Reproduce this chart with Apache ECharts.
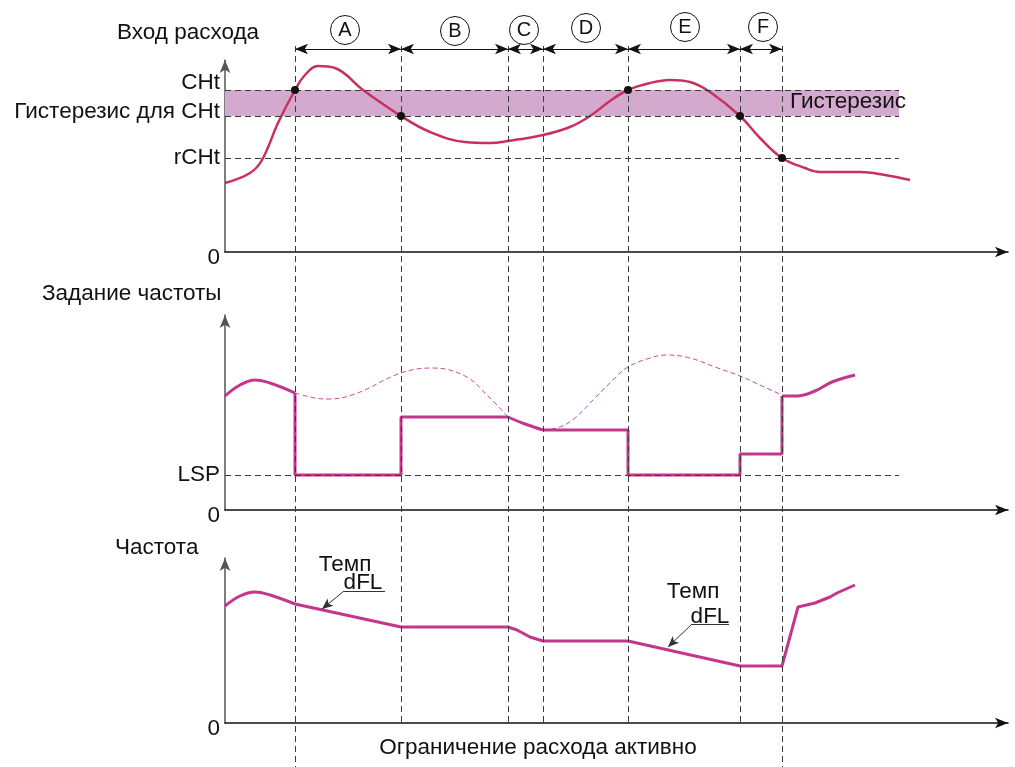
<!DOCTYPE html>
<html><head><meta charset="utf-8">
<script src="https://cdn.jsdelivr.net/npm/echarts@6/dist/echarts.min.js"></script>
<style>html,body{margin:0;padding:0;background:#fff}#c{width:1015px;height:767px}</style>
</head><body><div id="c"></div>
<script>
const FONT = "'Liberation Sans', Arial, Helvetica, sans-serif";
const FS = 22.5;
const TXT = '#111';

// ---- time axis events (dashed verticals) ----
const events = [70, 176, 283, 318, 403, 515, 557];
const eventBottom = [767, 722, 722, 722, 722, 722, 767];
const phaseLetters = ['A', 'B', 'C', 'D', 'E', 'F'];
const phaseLetterX = [120, 230, 299, 361, 460, 538];
const phaseLetterY = [30, 31, 30, 28, 27, 27];

// ---- top panel: flow input ----
const CHT = 162, HYST_CHT = 136, RCHT = 94;
const bandEnd = 674;
const flowInput = [[0,69],[25,79],[37,92],[53,129],[70,162],[80,177],[93,186],[110,184],[138,162],[176,136],
  [205,120],[240,110],[265,109],[283,111],[318,117],[345,125],[365,136],[385,151],[403,162],[425,169],
  [445,172],[465,170],[485,160],[515,136],[535,114],[557,94],[580,84],[595,80],[635,80],[660,77],[685,72]];
const flowDots = [[70,162],[176,136],[403,162],[515,136],[557,94]];

// ---- middle panel: frequency reference ----
const LSP = 35;
const refCurveA = [[0,114],[15,125],[30,130],[45,127],[70,117]];
const refStepA = [[70,117],[70,35],[176,35],[176,93],[283,93]];
const refCurveB = [[283,93],[300,86],[318,80]];
const refStepB = [[318,80],[403,80],[403,35],[515,35],[515,56],[557,56],[557,114]];
const refCurveC = [[557,114],[572,114],[590,119],[607,128],[630,135]];
const refDashA = [[70,117],[90,112],[103,111],[130,116],[176,137],[207,142],[240,134],[262,115],[283,93]];
const refDashB = [[318,80],[335,83],[350,92],[370,112],[390,132],[403,143],[425,152],[442,155],[465,152],
  [490,143],[515,134],[537,124],[557,115]];

// ---- bottom panel: output frequency ----
const freqCurveA = [[0,117],[15,127],[30,131],[45,128],[70,119]];
const freqLine = [[70,119],[176,96],[283,96],[292,93],[305,86],[318,82],[403,82],[515,57],[557,57],[573,116],
  [590,120],[605,126],[612,130],[630,138]];
const rampNotes = [
  {t:120, v:158, text:'Темп'}, {t:138, v:140, text:'dFL'},
  {t:468, v:131, text:'Темп'}, {t:485, v:106, text:'dFL'}];
const rampUnderline = [[[119,132],[160,132]], [[467,99],[504,99]]];
const rampPointer = [[[119,132],[97,114]], [[467,99],[443,76]]];

// ---- colours ----
const C_FLOW = '#c8315f', C_REF = '#c3368a', C_DASH = '#3a3a3a';

const xAxisBase = (gi) => ({
  type: 'value', gridIndex: gi, min: 0, max: 783,
  axisLine: {show: true, onZero: false, symbol: ['none', 'arrow'], symbolSize: [8, 13], lineStyle: {color: '#111', width: 1.5}},
  axisTick: {show: false}, axisLabel: {show: false}, splitLine: {show: false}
});
const yAxisBase = (gi, max, values, names, rich) => ({
  type: 'value', gridIndex: gi, min: 0, max: max,
  axisLine: {show: true, symbol: ['none', 'arrow'], symbolSize: [8, 13], lineStyle: {color: '#555', width: 1.5}},
  axisTick: {show: false}, splitLine: {show: false},
  axisLabel: {show: true, customValues: values, margin: 5, fontSize: FS, fontFamily: FONT, color: TXT,
    formatter: v => { const i = values.indexOf(v); return '{' + rich[i] + '|' + names[i] + '}'; },
    rich: {
      d: {fontSize: FS, fontFamily: FONT, color: TXT, padding: [12, 0, 0, 0]},
      u7: {fontSize: FS, fontFamily: FONT, color: TXT, padding: [0, 0, 14, 0]},
      u4: {fontSize: FS, fontFamily: FONT, color: TXT, padding: [0, 0, 8, 0]},
      n: {fontSize: FS, fontFamily: FONT, color: TXT}
    }}
});

const dashStyle = {type: [6, 4], color: C_DASH, width: 1};
const noLabel = {show: false};
const titleStyle = {fontSize: FS, fontWeight: 'normal', color: TXT, fontFamily: FONT};
const textLabel = (pos, size) => ({show: true, position: pos, distance: 0, formatter: p => p.name,
  fontSize: size, fontFamily: FONT, color: TXT, textBorderWidth: 0, opacity: 1});

const option = {
  animation: false,
  backgroundColor: '#fff',
  textStyle: {fontFamily: FONT},
  title: [
    {text: 'Вход расхода', left: 117, top: 21, padding: 0, textStyle: titleStyle},
    {text: 'Задание частоты', left: 42, top: 282, padding: 0, textStyle: titleStyle},
    {text: 'Частота', left: 115, top: 536, padding: 0, textStyle: titleStyle}
  ],
  grid: [
    {left: 225, top: 60, width: 783, height: 192},
    {left: 225, top: 315, width: 783, height: 195},
    {left: 225, top: 558, width: 783, height: 165},
    {left: 225, top: 0, width: 783, height: 767}
  ],
  xAxis: [xAxisBase(0), xAxisBase(1), xAxisBase(2),
    {type: 'value', gridIndex: 3, min: 0, max: 783, show: false}],
  yAxis: [
    yAxisBase(0, 192, [0, RCHT, HYST_CHT, CHT], ['0', 'rCHt', 'Гистерезис для CHt', 'CHt'], ['d', 'n', 'u4', 'u7']),
    yAxisBase(1, 195, [0, LSP], ['0', 'LSP'], ['d', 'n']),
    yAxisBase(2, 165, [0], ['0'], ['d']),
    {type: 'value', gridIndex: 3, min: 0, max: 767, inverse: true, show: false}
  ],
  series: [
    // overlay: vertical event lines, phase arrows, letters
    {type: 'line', xAxisIndex: 3, yAxisIndex: 3, data: [[0, 0]], showSymbol: false, lineStyle: {opacity: 0}, z: 3, silent: true, clip: false,
      markLine: {silent: true, symbol: ['none', 'none'], label: noLabel, lineStyle: dashStyle, animation: false,
        data: events.map((t, i) => [{coord: [t, 46]}, {coord: [t, eventBottom[i]]}])}},
    {type: 'line', xAxisIndex: 3, yAxisIndex: 3, data: [[0, 0]], showSymbol: false, lineStyle: {opacity: 0}, z: 6, silent: true, clip: false,
      markLine: {silent: true, symbol: ['arrow', 'arrow'], symbolSize: [8, 13], label: noLabel,
        lineStyle: {type: 'solid', color: '#111', width: 1}, animation: false,
        data: events.slice(0, -1).map((t, i) => [{coord: [t, 49]}, {coord: [events[i + 1], 49]}])
          .concat([[{coord: [events[0], 769]}, {coord: [events[6], 769]}]])}},
    {type: 'scatter', xAxisIndex: 3, yAxisIndex: 3, z: 6, silent: true,
      data: phaseLetters.map((l, i) => ({value: [phaseLetterX[i], phaseLetterY[i]], name: l})),
      symbol: 'circle', symbolSize: 29,
      itemStyle: {color: '#fff', borderColor: '#111', borderWidth: 1, opacity: 1},
      label: textLabel('inside', 20)},
    {type: 'scatter', xAxisIndex: 3, yAxisIndex: 3, z: 6, silent: true,
      data: [{value: [313, 748], name: 'Ограничение расхода активно'}], symbolSize: 0, itemStyle: {opacity: 1, color: '#fff'},
      label: textLabel('inside', FS)},

    // top panel
    {type: 'line', xAxisIndex: 0, yAxisIndex: 0, data: [[0, 0]], showSymbol: false, lineStyle: {opacity: 0}, z: 1, silent: true,
      markArea: {silent: true, itemStyle: {color: '#d4a9ce'}, data: [[{coord: [0, HYST_CHT]}, {coord: [bandEnd, CHT]}]]},
      markLine: {silent: true, symbol: ['none', 'none'], label: noLabel, lineStyle: dashStyle,
        data: [CHT, HYST_CHT, RCHT].map(v => [{coord: [0, v]}, {coord: [bandEnd, v]}])}},
    {type: 'line', xAxisIndex: 0, yAxisIndex: 0, data: flowInput, smooth: 0.4, showSymbol: false, z: 4,
      lineStyle: {color: C_FLOW, width: 2.5}},
    {type: 'scatter', xAxisIndex: 0, yAxisIndex: 0, data: flowDots, symbolSize: 8, z: 5, itemStyle: {color: '#111', opacity: 1}},
    {type: 'scatter', xAxisIndex: 0, yAxisIndex: 0, data: [{value: [565, 150], name: 'Гистерезис'}], symbolSize: 0, z: 5,
      itemStyle: {opacity: 1, color: '#fff'}, label: textLabel('right', FS)},

    // middle panel
    {type: 'line', xAxisIndex: 1, yAxisIndex: 1, data: [[0, 0]], showSymbol: false, lineStyle: {opacity: 0}, z: 1, silent: true,
      markLine: {silent: true, symbol: ['none', 'none'], label: noLabel, lineStyle: dashStyle,
        data: [[{coord: [0, LSP]}, {coord: [bandEnd, LSP]}]]}},
    {type: 'line', xAxisIndex: 1, yAxisIndex: 1, data: refDashA, smooth: 0.4, showSymbol: false, z: 3,
      lineStyle: {color: '#cc4c96', width: 1, type: [5, 3]}},
    {type: 'line', xAxisIndex: 1, yAxisIndex: 1, data: refDashB, smooth: 0.4, showSymbol: false, z: 3,
      lineStyle: {color: '#cc4c96', width: 1, type: [5, 3]}},
    {type: 'line', xAxisIndex: 1, yAxisIndex: 1, data: refCurveA, smooth: 0.4, showSymbol: false, z: 4, lineStyle: {color: C_REF, width: 3}},
    {type: 'line', xAxisIndex: 1, yAxisIndex: 1, data: refStepA, showSymbol: false, z: 4, lineStyle: {color: C_REF, width: 3}},
    {type: 'line', xAxisIndex: 1, yAxisIndex: 1, data: refCurveB, smooth: 0.4, showSymbol: false, z: 4, lineStyle: {color: C_REF, width: 3}},
    {type: 'line', xAxisIndex: 1, yAxisIndex: 1, data: refStepB, showSymbol: false, z: 4, lineStyle: {color: C_REF, width: 3}},
    {type: 'line', xAxisIndex: 1, yAxisIndex: 1, data: refCurveC, smooth: 0.4, showSymbol: false, z: 4, lineStyle: {color: C_REF, width: 3}},

    // bottom panel
    {type: 'line', xAxisIndex: 2, yAxisIndex: 2, data: freqCurveA, smooth: 0.4, showSymbol: false, z: 4, lineStyle: {color: C_REF, width: 3}},
    {type: 'line', xAxisIndex: 2, yAxisIndex: 2, data: freqLine, showSymbol: false, z: 4, lineStyle: {color: C_REF, width: 3}},
    {type: 'line', xAxisIndex: 2, yAxisIndex: 2, data: [[0, 0]], showSymbol: false, lineStyle: {opacity: 0}, z: 6, silent: true,
      markLine: {silent: true, label: noLabel, animation: false,
        data: rampUnderline.map(s => [{coord: s[0], symbol: 'none', lineStyle: {type: 'solid', color: '#333', width: 1}}, {coord: s[1], symbol: 'none'}])
          .concat(rampPointer.map(s => [{coord: s[0], symbol: 'none', lineStyle: {type: 'solid', color: '#333', width: 1}}, {coord: s[1], symbol: 'arrow', symbolSize: [7, 11]}]))}},
    {type: 'scatter', xAxisIndex: 2, yAxisIndex: 2, z: 6, silent: true, symbolSize: 0, itemStyle: {opacity: 1, color: '#fff'},
      data: rampNotes.map(n => ({value: [n.t, n.v], name: n.text})),
      label: textLabel('inside', FS)}
  ]
};
const chart = echarts.init(document.getElementById('c'), null, {renderer: 'canvas'});
chart.setOption(option);
</script></body></html>
